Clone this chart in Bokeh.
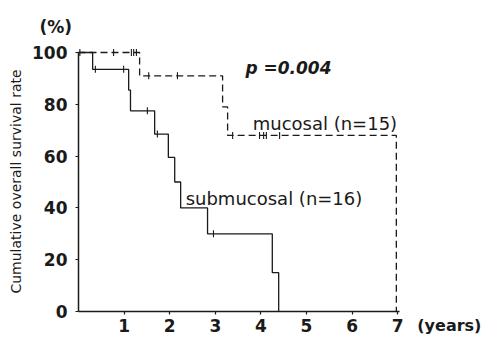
import numpy as np
from bokeh.plotting import figure
from bokeh.models import Range1d, FixedTicker, Label
from bokeh.embed import file_html
from bokeh.resources import INLINE

# ---- data ----
muc_times = [0.0, 1.34, 3.16, 3.27, 6.97]
muc_surv = [100, 91, 79, 68, 0]
muc_cens_t = [0.03, 0.77, 1.16, 1.21, 1.27, 1.54, 2.17, 3.38, 3.97, 4.06, 4.12, 4.41]
muc_cens_s = [100, 100, 100, 100, 100, 91, 91, 68, 68, 68, 68, 68]

sub_times = [0.0, 0.31, 1.10, 1.14, 1.67, 1.97, 2.11, 2.24, 2.83, 4.25, 4.39]
sub_surv = [100, 93.5, 85.5, 77.5, 68.5, 59.5, 50, 40, 30, 15, 0]
sub_cens_t = [0.37, 0.99, 1.51, 1.73, 2.96]
sub_cens_s = [93.5, 93.5, 77.5, 68.5, 30]

x_ticks = [1, 2, 3, 4, 5, 6, 7]
y_ticks = [0, 20, 40, 60, 80, 100]


def step_path(times, surv):
    xs, ys = [times[0]], [surv[0]]
    for i in range(1, len(times)):
        xs += [times[i], times[i]]
        ys += [surv[i - 1], surv[i]]
    return xs, ys


FONT = "DejaVu Sans"
INK = "#1a1a1a"
W, H = 482, 337
X0, PXX = 78.0, 45.6      # pixel of x=0, pixels per year
Y0, PXY = 311.0, 2.59     # pixel of y=0, pixels per percent

p = figure(width=W, height=H, output_backend="svg", toolbar_location=None,
           x_range=Range1d(-X0 / PXX, (W - X0) / PXX),
           y_range=Range1d(-(H - Y0) / PXY, Y0 / PXY),
           min_border=0)
p.grid.visible = False
p.outline_line_color = None
p.background_fill_color = "white"

for ax in (p.xaxis[0], p.yaxis[0]):
    ax.fixed_location = 0
    ax.axis_line_width = 1.5
    ax.axis_line_color = INK
    ax.major_tick_line_color = INK
    ax.major_tick_line_width = 1.2
    ax.major_tick_in = 0
    ax.major_tick_out = 3
    ax.minor_tick_line_color = None
    ax.major_label_text_font = FONT
    ax.major_label_text_font_style = "bold"
    ax.major_label_text_font_size = "17px"
    ax.major_label_text_color = INK

p.xaxis.bounds = (0, 7.05)
p.yaxis.bounds = (0, 100)
p.xaxis.ticker = FixedTicker(ticks=x_ticks)
p.yaxis.ticker = FixedTicker(ticks=y_ticks)
p.xaxis.major_label_standoff = 4
p.yaxis.major_label_standoff = 8

mx, my = step_path(muc_times, muc_surv)
sx, sy = step_path(sub_times, sub_surv)
p.line(mx, my, line_color=INK, line_width=1.3, line_dash="7 4")
p.line(sx, sy, line_color=INK, line_width=1.3)
p.scatter(muc_cens_t, muc_cens_s, marker="dash", angle=np.pi / 2, size=7,
          line_color=INK, line_width=1.1)
p.scatter(sub_cens_t, sub_cens_s, marker="dash", angle=np.pi / 2, size=7,
          line_color=INK, line_width=1.1)


def lab(x, y, t, size="18px", style="normal", align="left", baseline="alphabetic", angle=0.0):
    p.add_layout(Label(x=x, y=y, text=t, text_font=FONT, text_font_size=size,
                       text_font_style=style, text_color=INK, text_align=align,
                       text_baseline=baseline, angle=angle))


lab(-0.50, 110.0, "(%)", size="17px", style="bold", align="center")
lab(3.66, 94.2, "p =0.004", size="17px", style="bold italic")
lab(3.82, 72.6, "mucosal (n=15)")
lab(2.35, 43.6, "submucosal (n=16)")
lab(7.43, -5.4, "(years)", size="16px", style="bold")
lab(-1.36, 50.2, "Cumulative overall survival rate", size="14px", align="center",
    baseline="middle", angle=np.pi / 2)

open("out.html", "w").write(file_html(p, INLINE))
